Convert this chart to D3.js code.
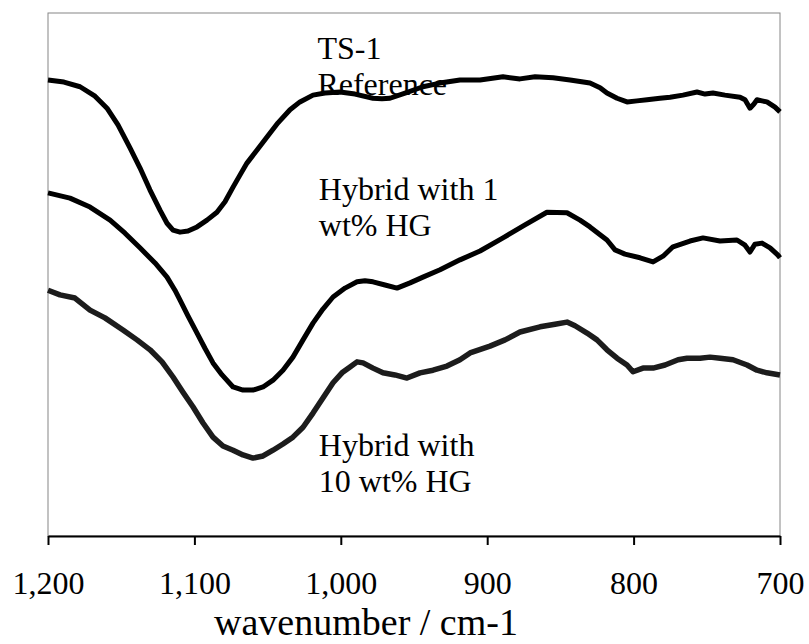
<!DOCTYPE html>
<html>
<head>
<meta charset="utf-8">
<script src="https://cdn.jsdelivr.net/npm/d3@7"></script>
<style>
  html, body { margin: 0; padding: 0; background: #fff; }
  svg { display: block; }
</style>
</head>
<body>
<svg id="chart" width="809" height="644"></svg>
<script>
// ---- Data (wavenumber in cm-1, signal in arbitrary units) ----
const xTicks = [1200, 1100, 1000, 900, 800, 700];
const xTitle = "wavenumber / cm-1";

const ts1Wn = [1200,1189.1,1178.1,1167.9,1159.7,1152.2,1144.0,1137.2,1130.4,1123.5,1118.7,1114.6,1109.8,1104.4,1098.2,1091.4,1084.6,1079.1,1073.6,1068.9,1064.1,1057.2,1050.4,1042.9,1034.7,1027.9,1019.0,1010.8,1000.5,990.3,978.0,971.9,966.4,956.1,943.9,932.2,918.6,904.9,889.2,877.6,867.3,855.0,843.4,829.8,822.9,818.2,811.3,804.5,797.7,790.8,782.0,775.1,766.3,756.7,751.2,745.8,737.6,727.3,723.9,720.5,717.8,715.7,712.3,708.9,703.4,700];
const ts1Val = [87.2,86.8,85.9,84.1,81.8,78.6,74.2,70.4,66.2,62.3,59.8,58.5,58.1,58.3,59.1,60.4,61.9,63.9,66.7,69.0,71.3,73.8,76.3,79.0,81.5,83.0,84.3,84.7,84.9,84.5,83.7,83.6,83.7,84.7,85.9,86.6,87.2,87.2,87.8,87.4,87.8,87.6,87.2,86.6,85.7,84.7,83.7,83.0,83.2,83.4,83.7,83.9,84.3,84.9,84.5,84.7,84.3,83.9,83.4,81.8,82.6,83.4,83.2,83.0,82.0,81.1];

const hg1Wn = [1200,1185.0,1171.3,1157.6,1147.4,1137.2,1126.9,1118.7,1113.3,1109.8,1104.4,1098.2,1092.8,1087.3,1081.1,1073.6,1066.8,1060.0,1053.1,1046.3,1039.5,1032.7,1025.8,1019.0,1012.2,1005.3,997.1,988.9,983.5,978.0,969.8,961.6,952.7,943.9,932.2,918.6,904.9,889.2,874.2,859.2,845.5,836.6,829.8,822.9,818.2,812.7,805.9,795.6,786.7,779.9,773.1,761.5,752.6,741.0,729.4,723.9,720.5,717.1,712.3,706.8,701.4,700];
const hg1Val = [65.6,64.6,62.9,60.4,57.9,55.1,52.2,49.5,47.0,45.1,42.1,38.8,35.9,33.1,30.8,28.5,27.9,27.9,28.5,29.8,31.7,34.2,37.5,40.7,43.4,45.7,47.4,48.6,48.8,48.6,48.0,47.4,48.4,49.5,50.9,52.8,54.5,57.0,59.5,61.9,61.8,60.4,59.1,57.6,56.6,54.7,53.9,53.2,52.4,53.5,55.3,56.4,57.0,56.4,56.6,55.6,54.3,55.8,56.0,55.1,53.7,53.2];

const hg10Wn = [1200,1191.8,1181.6,1171.3,1161.1,1148.8,1139.2,1130.3,1122.1,1114.6,1107.8,1101.0,1094.1,1087.3,1080.5,1073.6,1066.8,1060.0,1053.1,1046.3,1039.5,1032.7,1025.8,1019.0,1012.2,1005.3,999.2,993.7,988.9,984.8,978.0,971.2,963.0,954.8,945.9,937.0,927.5,918.6,911.7,898.1,887.8,877.6,863.9,853.7,845.5,840.0,831.8,825.0,818.2,811.3,804.5,800.4,793.6,786.7,778.5,769.6,763.5,754.6,747.8,740.9,732.1,722.5,715.7,708.9,700];
const hg10Val = [47.0,46.1,45.5,43.2,41.7,39.4,37.5,35.6,33.3,30.4,27.5,24.7,21.6,18.9,17.2,16.4,15.5,14.9,15.3,16.4,17.6,18.9,20.8,23.5,26.4,29.3,31.2,32.3,33.3,33.1,32.1,31.2,30.8,30.2,31.2,31.7,32.5,33.7,35.0,36.3,37.5,39.0,40.0,40.5,40.9,40.2,38.8,37.5,35.6,34.0,32.7,31.4,32.1,32.1,32.7,33.7,34.0,34.0,34.2,34.0,33.7,32.7,31.7,31.2,30.8];

const seriesNames = ["TS-1 Reference", "Hybrid with 1 wt% HG", "Hybrid with 10 wt% HG"];
const seriesLabels = [["TS-1", "Reference"], ["Hybrid with 1", "wt% HG"], ["Hybrid with", "10 wt% HG"]];
const labelAnchorWn = [1016, 1015, 1015];
const labelAnchorVal = [91.2, 64.2, 15.3];

// ---- Layout ----
const svg = d3.select("#chart");
const mLeft = 48, mRight = 780, mTop = 13, mBottom = 536;
const x = d3.scaleLinear().domain([1200, 700]).range([mLeft, mRight]);
const y = d3.scaleLinear().domain([0, 100]).range([mBottom, mTop]);
const font = "'Liberation Serif', 'Times New Roman', serif";

// Plot area border
svg.append("rect")
  .attr("x", mLeft).attr("y", mTop)
  .attr("width", mRight - mLeft).attr("height", mBottom - mTop)
  .attr("fill", "none").attr("stroke", "#868686").attr("stroke-width", 1);

// Series
const series = [
  { wn: ts1Wn, val: ts1Val, color: "#000", w: 5 },
  { wn: hg1Wn, val: hg1Val, color: "#000", w: 5 },
  { wn: hg10Wn, val: hg10Val, color: "#1c1c1c", w: 5.5 }
];
const line = d3.line().x(d => x(d[0])).y(d => y(d[1])).curve(d3.curveLinear);
series.forEach(s => {
  const pts = s.wn.map((w, i) => [w, s.val[i]]);
  svg.append("path")
    .datum(pts)
    .attr("d", line)
    .attr("fill", "none")
    .attr("stroke", s.color)
    .attr("stroke-width", s.w)
    .attr("stroke-linejoin", "round")
    .attr("stroke-linecap", "butt");
});

// X axis
const xAxis = d3.axisBottom(x)
  .tickValues(xTicks)
  .tickFormat(d3.format(","))
  .tickSizeInner(9).tickSizeOuter(0).tickPadding(26);
const gx = svg.append("g").attr("transform", `translate(0,${mBottom})`).call(xAxis);
gx.select(".domain").attr("stroke", "#000").attr("stroke-width", 2);
gx.selectAll(".tick line").attr("stroke", "#000").attr("stroke-width", 2);
gx.selectAll(".tick text")
  .attr("font-family", font).attr("font-size", 32).attr("fill", "#000");

// Axis title
svg.append("text")
  .attr("x", 366).attr("y", 635)
  .attr("text-anchor", "middle")
  .attr("font-family", font).attr("font-size", 38).attr("fill", "#000")
  .text(xTitle);

// Series labels
seriesLabels.forEach((lines, i) => {
  const t = svg.append("text")
    .attr("font-family", font).attr("font-size", 32).attr("fill", "#000");
  lines.forEach((ln, j) => {
    t.append("tspan")
      .attr("x", x(labelAnchorWn[i]))
      .attr("y", y(labelAnchorVal[i]) + j * 36)
      .text(ln);
  });
});
</script>
</body>
</html>
